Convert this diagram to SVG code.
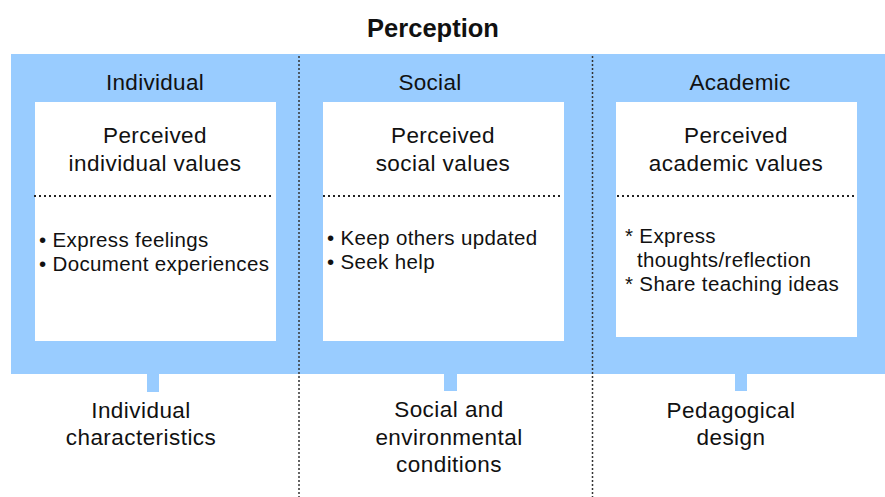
<svg xmlns="http://www.w3.org/2000/svg" width="885" height="497" viewBox="0 0 885 497">
<style>
text{font-family:"Liberation Sans",Arial,sans-serif;fill:#111;}
.t{font-size:25.5px;font-weight:bold;text-anchor:middle;}
.h{font-size:22.5px;letter-spacing:0.3px;text-anchor:middle;}
.p{font-size:22.5px;letter-spacing:0.45px;text-anchor:middle;}
.b{font-size:20.5px;letter-spacing:0.35px;}
.l{font-size:22.5px;letter-spacing:0.45px;text-anchor:middle;}
.box{fill:#fff;}
.stub{fill:#99ccff;}
.hd{stroke:#222;stroke-width:2;stroke-dasharray:2 3;fill:none;}
.vd{stroke:#333;stroke-width:1.5;stroke-dasharray:2 2;fill:none;}
</style>
<rect x="0" y="0" width="885" height="497" fill="#fff"/>
<text class="t" x="433" y="37">Perception</text>
<rect id="band" x="11" y="54" width="874" height="320" fill="#99ccff"/>
<g id="connectors">
<rect class="stub" x="147" y="373" width="12" height="19"/>
<rect class="stub" x="444" y="373" width="13" height="18"/>
<rect class="stub" x="735" y="373" width="12" height="18"/>
<line class="vd" x1="299" y1="56" x2="299" y2="497"/>
<line class="vd" x1="592.5" y1="56" x2="592.5" y2="497"/>
</g>
<g id="individual">
<text class="h" x="155" y="90">Individual</text>
<rect class="box" x="35" y="102" width="241" height="239"/>
<text class="p" x="155" y="143">Perceived</text>
<text class="p" x="155" y="171">individual values</text>
<line class="hd" x1="34" y1="196" x2="272" y2="196"/>
<text class="b" x="39" y="247">• Express feelings</text>
<text class="b" x="39" y="271">• Document experiences</text>
</g>
<g id="social">
<text class="h" x="430" y="90">Social</text>
<rect class="box" x="323" y="102" width="241" height="239"/>
<text class="p" x="443" y="143">Perceived</text>
<text class="p" x="443" y="171">social values</text>
<line class="hd" x1="323" y1="196" x2="562" y2="196"/>
<text class="b" x="327" y="245">• Keep others updated</text>
<text class="b" x="327" y="269">• Seek help</text>
</g>
<g id="academic">
<text class="h" x="740" y="90">Academic</text>
<rect class="box" x="616" y="102" width="241" height="235"/>
<text class="p" x="736" y="143">Perceived</text>
<text class="p" x="736" y="171">academic values</text>
<line class="hd" x1="617" y1="196" x2="856" y2="196"/>
<text class="b" x="625" y="243">* Express</text>
<text class="b" x="637" y="267">thoughts/reflection</text>
<text class="b" x="625" y="291">* Share teaching ideas</text>
</g>
<g id="ind-char">
<text class="l" x="141" y="418">Individual</text>
<text class="l" x="141" y="445">characteristics</text>
</g>
<g id="soc-env">
<text class="l" x="449" y="417">Social and</text>
<text class="l" x="449" y="445">environmental</text>
<text class="l" x="449" y="472">conditions</text>
</g>
<g id="ped-design">
<text class="l" x="731" y="418">Pedagogical</text>
<text class="l" x="731" y="445">design</text>
</g>
</svg>
